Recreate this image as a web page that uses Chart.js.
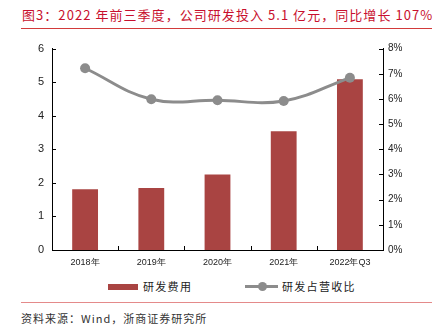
<!DOCTYPE html>
<html>
<head>
<meta charset="utf-8">
<script src="https://cdn.jsdelivr.net/npm/chart.js@4/dist/chart.umd.min.js"></script>
<style>
    body {
        margin: 0;
        width: 442px;
        height: 334px;
        background: #fff;
        position: relative;
        overflow: hidden;
        font-family: "Noto Sans CJK SC", "Noto Sans", sans-serif;
    }
    .title {
        position: absolute;
        left: 22px;
        top: 5px;
        font-size: 13px;
        letter-spacing: 1.05px;
        color: #C8102E;
        white-space: nowrap;
    }
    .rule-top {
        position: absolute;
        left: 21px;
        top: 28px;
        width: 411px;
        height: 1px;
        background: #D23A3A;
    }
    .chart-box {
        position: absolute;
        left: 0;
        top: 34px;
        width: 442px;
        height: 240px;
    }
    .legend-item {
        position: absolute;
        top: 279px;
        font-size: 11px;
        letter-spacing: 1.3px;
        color: #222;
        white-space: nowrap;
        line-height: 15px;
    }
    .sw-bar {
        position: absolute;
        left: 108px;
        top: 284px;
        width: 30px;
        height: 6px;
    }
    .sw-line {
        position: absolute;
        left: 245px;
        top: 285px;
        width: 33px;
        height: 3px;
    }
    .sw-dot {
        position: absolute;
        left: 258px;
        top: 282px;
        width: 9px;
        height: 9px;
        border-radius: 50%;
    }
    .rule-bottom {
        position: absolute;
        left: 21px;
        top: 302px;
        width: 411px;
        height: 1px;
        background: #E48A8A;
    }
    .source {
        position: absolute;
        left: 21px;
        top: 310px;
        font-size: 11px;
        letter-spacing: 1px;
        color: #333;
        white-space: nowrap;
    }
</style>
</head>
<body>
    <div class="title">图3：2022 年前三季度，公司研发投入 5.1 亿元，同比增长 107%</div>
    <div class="rule-top"></div>
    <div class="chart-box"><canvas id="chart"></canvas></div>
    <div class="sw-bar" id="swBar"></div>
    <div class="legend-item" id="lgBar" style="left:143px"></div>
    <div class="sw-line" id="swLine"></div>
    <div class="sw-dot" id="swDot"></div>
    <div class="legend-item" id="lgLine" style="left:282px"></div>
    <div class="rule-bottom"></div>
    <div class="source">资料来源：Wind，浙商证券研究所</div>

<script>
    const categories = ['2018年', '2019年', '2020年', '2021年', '2022年Q3'];
    const rdExpense = [1.81, 1.85, 2.25, 3.54, 5.09];   // 亿元
    const rdRatio = [7.22, 5.99, 5.95, 5.92, 6.84];     // %
    const seriesNames = ['研发费用', '研发占营收比'];

    const barColor = '#A94442';
    const lineColor = '#8C8C8C';

    // legend (html, below the canvas)
    document.getElementById('swBar').style.background = barColor;
    document.getElementById('swLine').style.background = lineColor;
    document.getElementById('swDot').style.background = lineColor;
    document.getElementById('lgBar').textContent = seriesNames[0];
    document.getElementById('lgLine').textContent = seriesNames[1];

    // short inward tick marks
    const innerTicks = {
        id: 'innerTicks',
        afterDraw(chart) {
            const ctx = chart.ctx;
            const { y, y1 } = chart.scales;
            const area = chart.chartArea;
            ctx.save();
            ctx.strokeStyle = '#000';
            ctx.lineWidth = 1;
            ctx.beginPath();
            y.ticks.forEach(t => {
                const py = Math.round(y.getPixelForValue(t.value)) + 0.5;
                ctx.moveTo(area.left, py);
                ctx.lineTo(area.left + 4, py);
            });
            y1.ticks.forEach(t => {
                const py = Math.round(y1.getPixelForValue(t.value)) + 0.5;
                ctx.moveTo(area.right, py);
                ctx.lineTo(area.right - 4, py);
            });
            const step = (area.right - area.left) / categories.length;
            for (let i = 1; i < categories.length; i++) {
                const px = Math.round(area.left + i * step) + 0.5;
                ctx.moveTo(px, area.bottom);
                ctx.lineTo(px, area.bottom - 4);
            }
            ctx.stroke();
            ctx.restore();
        }
    };

    new Chart(document.getElementById('chart'), {
        type: 'bar',
        data: {
            labels: categories,
            datasets: [
                {
                    type: 'line',
                    label: seriesNames[1],
                    data: rdRatio,
                    yAxisID: 'y1',
                    borderColor: lineColor,
                    backgroundColor: lineColor,
                    borderWidth: 3,
                    tension: 0.4,
                    pointRadius: 5,
                    pointBackgroundColor: lineColor,
                    pointBorderWidth: 0,
                    order: 0
                },
                {
                    label: seriesNames[0],
                    data: rdExpense,
                    yAxisID: 'y',
                    backgroundColor: barColor,
                    barPercentage: 0.39,
                    categoryPercentage: 1,
                    order: 1
                }
            ]
        },
        options: {
            responsive: true,
            maintainAspectRatio: false,
            animation: false,
            layout: { padding: { top: 12, left: 0, right: 0, bottom: 0 } },
            scales: {
                x: {
                    grid: { display: false, drawTicks: false },
                    border: { display: true, color: '#000', width: 1 },
                    ticks: { color: '#222', font: { size: 9 }, padding: 7, maxRotation: 0 },
                    afterFit: s => { s.height = 24; }
                },
                y: {
                    position: 'left',
                    min: 0,
                    max: 6,
                    grid: { display: false, drawTicks: false },
                    border: { display: true, color: '#000', width: 1 },
                    ticks: { stepSize: 1, color: '#222', font: { size: 11, family: 'Liberation Sans' }, padding: 8 },
                    afterFit: s => { s.width = 52; }
                },
                y1: {
                    position: 'right',
                    min: 0,
                    max: 8,
                    grid: { display: false, drawTicks: false },
                    border: { display: true, color: '#000', width: 1 },
                    ticks: {
                        stepSize: 1,
                        color: '#222',
                        font: { size: 10, family: 'Liberation Sans' },
                        padding: 5,
                        callback: v => v + '%'
                    },
                    afterFit: s => { s.width = 59; }
                }
            },
            plugins: {
                legend: { display: false },
                tooltip: { enabled: false }
            }
        },
        plugins: [innerTicks]
    });
</script>
</body>
</html>
